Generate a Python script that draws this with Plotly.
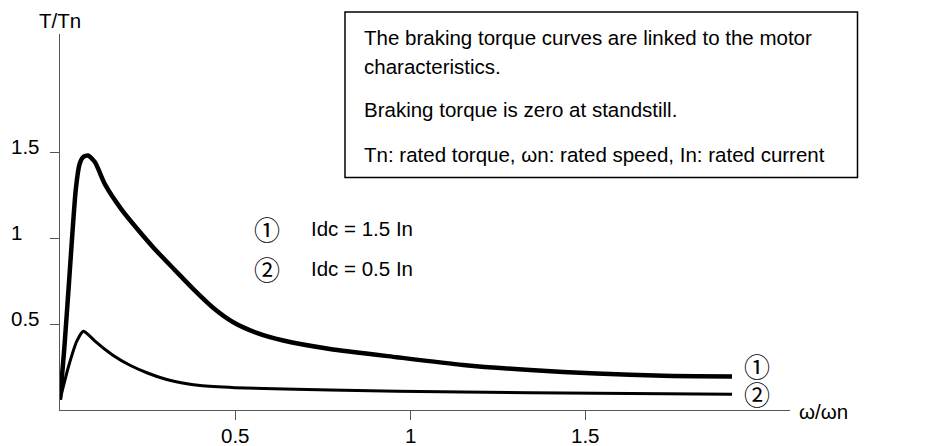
import plotly.graph_objects as go

# Braking torque T/Tn versus speed w/wn for two DC injection currents
speed_1 = [0.0, 0.012, 0.026, 0.045, 0.056, 0.066, 0.08, 0.1, 0.129, 0.176, 0.224,
           0.271, 0.329, 0.381, 0.44, 0.495, 0.56, 0.638, 0.771, 0.962, 1.152,
           1.343, 1.533, 1.724, 1.92]
torque_1 = [0.06, 0.35, 0.75, 1.28, 1.43, 1.47, 1.48, 1.44, 1.31, 1.165, 1.045,
            0.935, 0.812, 0.703, 0.59, 0.51, 0.45, 0.404, 0.355, 0.307, 0.262,
            0.232, 0.212, 0.199, 0.195]

speed_2 = [0.0, 0.024, 0.048, 0.067, 0.085, 0.1, 0.15, 0.2, 0.25, 0.3, 0.35,
           0.4, 0.5, 0.771, 1.152, 1.533, 1.92]
torque_2 = [0.06, 0.25, 0.40, 0.458, 0.43, 0.40, 0.32, 0.26, 0.215, 0.18, 0.157,
            0.142, 0.13, 0.116, 0.104, 0.098, 0.092]

tick_vals = [0.5, 1, 1.5]
tick_text = ["0.5", "1", "1.5"]

legend_marks = ["\u2460", "\u2461"]
legend_text = ["Idc = 1.5 In", "Idc = 0.5 In"]

note_lines = [
    "The braking torque curves are linked to the motor",
    "characteristics.",
    "Braking torque is zero at standstill.",
    "Tn: rated torque, \u03c9n: rated speed, In: rated current",
]

W, H = 938, 446
L, R, T, B = 60, 148, 34, 36
PW, PH = W - L - R, H - T - B
X_PER_UNIT, Y_PER_UNIT = 350, 172
FONT = "Liberation Sans, Arial, sans-serif"
AXIS_COLOR = "#555555"


def px(x):
    return (x - L) / PW


def py(y):
    return (H - B - y) / PH


fig = go.Figure()
fig.add_trace(go.Scatter(x=speed_1, y=torque_1, mode="lines",
                         line=dict(color="black", width=4.5, shape="spline", smoothing=0.6),
                         hoverinfo="skip"))
fig.add_trace(go.Scatter(x=speed_2, y=torque_2, mode="lines",
                         line=dict(color="black", width=3, shape="spline", smoothing=0.6),
                         hoverinfo="skip"))

ann = []
txt = dict(family=FONT, size=20.5, color="black")
base = dict(showarrow=False, borderpad=0, borderwidth=0)

# axis titles
ann.append(dict(text="T/Tn", x=px(59.5), y=py(20), xref="paper", yref="paper",
                xanchor="center", yanchor="middle", font=txt, **base))
ann.append(dict(text="\u03c9/\u03c9n", x=px(799), y=py(411), xref="paper", yref="paper",
                xanchor="left", yanchor="middle", font=txt, **base))

# tick labels
for v, t in zip(tick_vals, tick_text):
    ann.append(dict(text=t, x=v, y=py(436), xref="x", yref="paper",
                    xanchor="center", yanchor="middle", font=txt, **base))
    ann.append(dict(text=t, x=px(11), y=v, xref="paper", yref="y", yshift=6,
                    xanchor="left", yanchor="middle", font=txt, **base))

# legend block
circ = dict(family="Noto Sans CJK JP, DejaVu Sans, sans-serif", size=26, color="black")
for i, (m, t) in enumerate(zip(legend_marks, legend_text)):
    yy = 228 + 40 * i
    ann.append(dict(text=m, x=px(266.7), y=py(yy), xref="paper", yref="paper",
                    xanchor="center", yanchor="middle", font=circ, **base))
    ann.append(dict(text=t, x=px(311), y=py(yy), xref="paper", yref="paper",
                    xanchor="left", yanchor="middle", font=txt, **base))

# curve end markers
for m, yy in zip(legend_marks, [365, 393]):
    ann.append(dict(text=m, x=px(756.5), y=py(yy), xref="paper", yref="paper",
                    xanchor="center", yanchor="middle", font=circ, **base))

# note box text
for line, yy in zip(note_lines, [37.5, 66, 109, 154]):
    ann.append(dict(text=line, x=px(364), y=py(yy), xref="paper", yref="paper",
                    xanchor="left", yanchor="middle", font=txt, **base))

fig.update_layout(
    width=W, height=H,
    margin=dict(l=L, r=R, t=T, b=B, pad=0),
    paper_bgcolor="white", plot_bgcolor="white",
    showlegend=False,
    annotations=ann,
    shapes=[dict(type="rect", xref="paper", yref="paper",
                 x0=px(345), x1=px(857.5), y0=py(177.5), y1=py(12),
                 line=dict(color="black", width=1.5), fillcolor="rgba(0,0,0,0)")],
    xaxis=dict(range=[0, PW / X_PER_UNIT], showline=True, linecolor=AXIS_COLOR, linewidth=1,
               ticks="outside", ticklen=9, tickcolor=AXIS_COLOR, tickwidth=1,
               tickvals=tick_vals, showticklabels=False, showgrid=False, zeroline=False),
    yaxis=dict(range=[0, PH / Y_PER_UNIT], showline=True, linecolor=AXIS_COLOR, linewidth=1,
               ticks="outside", ticklen=9, tickcolor=AXIS_COLOR, tickwidth=1,
               tickvals=tick_vals, showticklabels=False, showgrid=False, zeroline=False),
)

fig.write_html("out.html")
